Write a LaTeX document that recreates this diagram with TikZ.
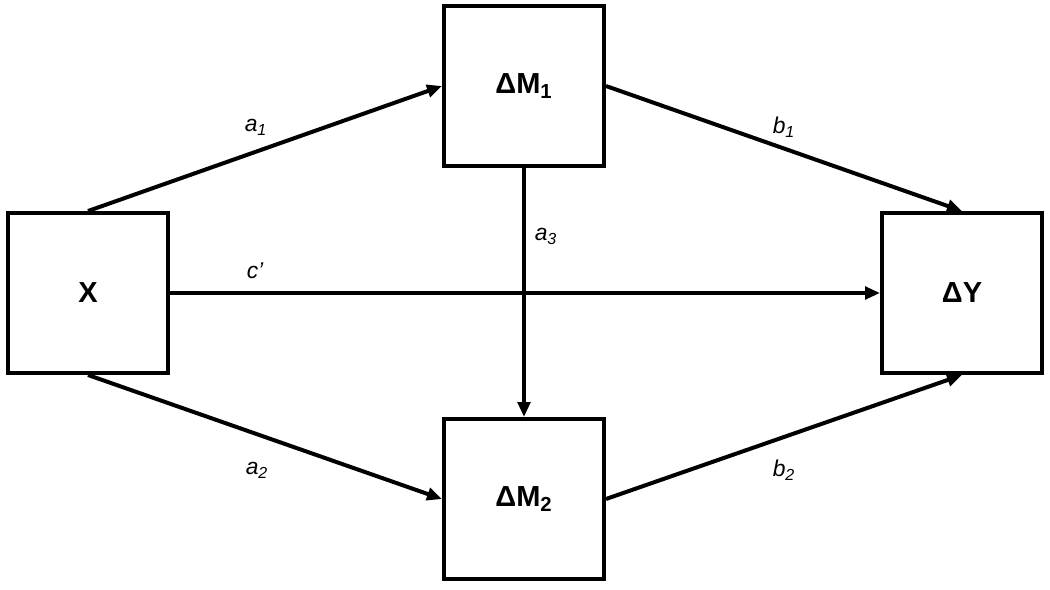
\documentclass[tikz,border=0pt]{standalone}
\usepackage{fontspec}
\setmainfont{Liberation Sans}
\usetikzlibrary{arrows.meta}
\begin{document}
\begin{tikzpicture}[x=0.02cm,y=-0.02cm,
  box/.style={draw=black,line width=0.08cm,minimum width=3.2cm,minimum height=3.2cm,inner sep=0pt,
    font=\fontsize{16.5}{18}\selectfont\bfseries},
  conn/.style={line width=0.08cm,-{Triangle[length=0.3cm,width=0.25cm]}},
  lab/.style={font=\fontsize{13}{15}\selectfont\itshape,inner sep=0pt}]
\useasboundingbox (0,0) rectangle (1050,589);
\fill[white] (0,0) rectangle (1050,589);
\node[box] (X) at (88,293) {X};
\node[box] (M1) at (524,86) {ΔM\textsubscript{1}};
\node[box] (M2) at (524,499) {ΔM\textsubscript{2}};
\node[box] (Y) at (962,293) {ΔY};
\draw[conn] (X.north) -- (M1.west);
\draw[conn] (X.south) -- (M2.west);
\draw[conn] (X.east) -- (Y.west);
\draw[conn] (M1.south) -- (M2.north);
\draw[conn] (M1.east) -- (Y.north);
\draw[conn] (M2.east) -- (Y.south);
\node[lab] (la1) at (256,127) {a\textsubscript{1}};
\node[lab] (la2) at (257,470) {a\textsubscript{2}};
\node[lab] (la3) at (546,236) {a\textsubscript{3}};
\node[lab] (lc) at (255,271) {c’};
\node[lab] (lb1) at (784,127) {b\textsubscript{1}};
\node[lab] (lb2) at (784,470) {b\textsubscript{2}};
\end{tikzpicture}
\end{document}
